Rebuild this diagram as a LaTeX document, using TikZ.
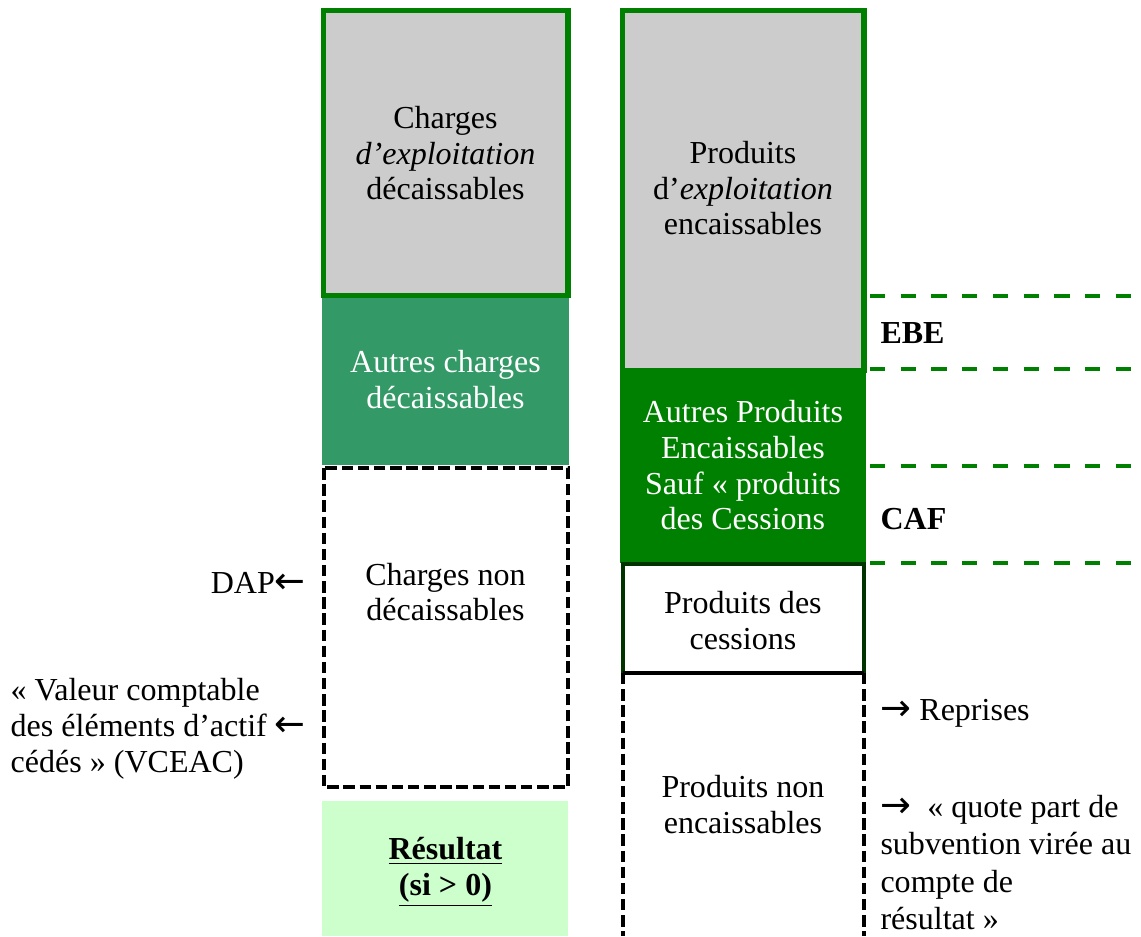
\documentclass[tikz,border=0pt]{standalone}
\usepackage{fontspec}
\setmainfont{Liberation Serif}
\newfontfamily\fleche{DejaVu Sans}
\usepackage{xcolor}
\usepackage{tikz}

\definecolor{vertbord}{HTML}{008000}
\definecolor{vertmoyen}{HTML}{339966}
\definecolor{vertclair}{HTML}{CCFFCC}
\definecolor{vertfonce}{HTML}{003300}
\definecolor{grisfond}{HTML}{CCCCCC}

\newcommand{\versg}{{\fleche\scalebox{1.15}{←}}}
\newcommand{\versd}{{\fleche\scalebox{1.15}{→}}}

\begin{document}
\begin{tikzpicture}[every node/.style={font=\fontsize{12.5}{14}\selectfont, align=center, inner sep=0pt},
    boitevert/.style={draw=vertbord, line width=2pt, fill=grisfond},
    tiret/.style={draw=black, line width=1.5pt, dash pattern=on 4.5pt off 1.8pt},
    seuil/.style={draw=vertbord, line width=1.5pt, dash pattern=on 6pt off 6pt}]
    \useasboundingbox (0,0) rectangle (15.65,-12.84);

    % Colonne des charges
    \fill[vertmoyen] (4.42,-4.07) rectangle (7.80,-6.38);
    \draw[boitevert] (4.44,-0.14) rectangle (7.79,-4.05);
    \draw[tiret] (4.44,-6.42) rectangle (7.79,-10.80);
    \fill[vertclair] (4.42,-10.98) rectangle (7.79,-12.84);

    \node (chexpl) at (6.11,-2.10) {Charges\\\textit{d’exploitation}\\décaissables};
    \node[text=white] (chautres) at (6.11,-5.20) {Autres charges\\décaissables};
    \node (chnon) at (6.11,-8.12) {Charges non\\décaissables};
    \node (resultat) at (6.11,-11.96) {\underline{\textbf{Résultat}}\\\underline{\textbf{(si > 0)}}};

    % Colonne des produits
    \fill[vertbord] (8.51,-5.08) rectangle (11.88,-7.72);
    \draw[boitevert] (8.54,-0.14) rectangle (11.85,-5.08);
    \draw[vertfonce, line width=1.5pt] (8.54,-9.23) -- (8.54,-7.74) -- (11.85,-7.74) -- (11.85,-9.23);
    \draw[black, line width=1.5pt] (8.54,-9.23) -- (11.85,-9.23);
    \draw[tiret] (8.54,-9.23) -- (8.54,-12.84);
    \draw[tiret] (11.85,-9.23) -- (11.85,-12.84);

    \node (prexpl) at (10.19,-2.58) {Produits\\d’\textit{exploitation}\\encaissables};
    \node[text=white] (prautres) at (10.19,-6.38) {Autres Produits\\Encaissables\\Sauf « produits\\des Cessions};
    \node (prcess) at (10.19,-8.51) {Produits des\\cessions};
    \node (prnon) at (10.19,-11.04) {Produits non\\encaissables};

    % Seuils EBE et CAF
    \foreach \y in {4.06,5.06,6.39,7.72}
        \draw[seuil] (11.93,-\y) -- (15.65,-\y);
    \node[anchor=west] (ebe) at (12.07,-4.57) {\textbf{EBE}};
    \node[anchor=west] (caf) at (12.07,-7.12) {\textbf{CAF}};

    % Renvois
    \node[anchor=east] (dap) at (4.20,-8.00) {DAP\versg};
    \node[anchor=west, align=left] (vceac) at (0.14,-10.00) {« Valeur comptable\\des éléments d’actif \versg\\cédés » (VCEAC)};
    \node[anchor=west, align=left] (reprises) at (12.07,-9.78) {\versd{} Reprises};
    \node[anchor=west, align=left, font=\fontsize{12.5}{14.6}\selectfont] (quotepart) at (12.07,-11.83) {\versd{} ~« quote part de\\subvention virée au\\compte de\\résultat »};
\end{tikzpicture}
\end{document}
